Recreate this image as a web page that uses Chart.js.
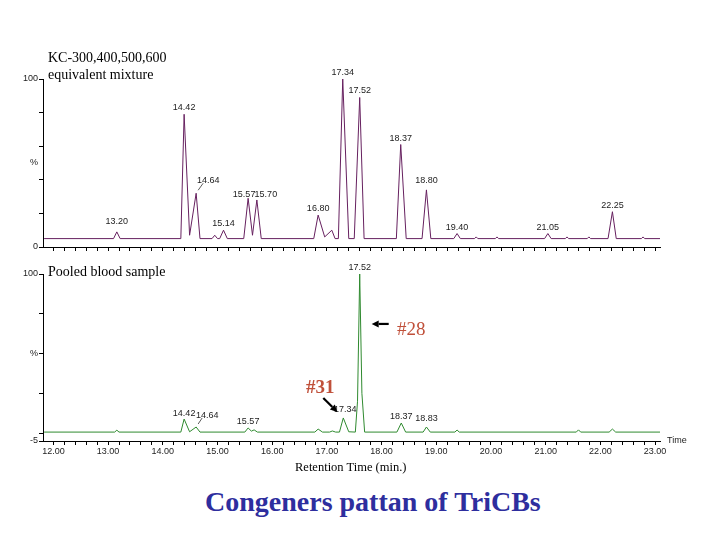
<!DOCTYPE html>
<html><head><meta charset="utf-8">
<script src="https://cdn.jsdelivr.net/npm/chart.js@4.4.1/dist/chart.umd.min.js"></script>
<style>
body{margin:0;background:#fff;width:720px;height:540px;position:relative;overflow:hidden;font-family:'Liberation Serif','Times New Roman',serif}
canvas{position:absolute;left:0}
.t{position:absolute;white-space:nowrap;color:#000}
</style></head><body>
<canvas id="topChart" width="720" height="262" style="top:0"></canvas>
<canvas id="botChart" width="720" height="225" style="top:255px"></canvas>
<div class="t" style="left:48px;top:49px;font-size:14px;line-height:17px">KC-300,400,500,600<br>equivalent mixture</div>
<div class="t" style="left:48px;top:263px;font-size:14px;line-height:17px">Pooled blood sample</div>
<div class="t" style="left:397px;top:318px;font-size:19px;line-height:22px;color:#c0503a">#28</div>
<div class="t" style="left:306px;top:376px;font-size:19px;line-height:22px;color:#c0503a;font-weight:bold">#31</div>
<div class="t" style="left:295px;top:459px;font-size:12.5px;line-height:16px">Retention Time (min.)</div>
<div class="t" style="left:667px;top:435px;font-size:9px;line-height:11px;font-family:'Liberation Sans',Arial,sans-serif;color:#222">Time</div>
<div class="t" style="left:205px;top:485px;font-size:28px;line-height:34px;font-weight:bold;color:#2e2e9e">Congeners pattan of TriCBs</div>
<script>
// ---- data ----
const timesTop = [11.83,13.10,13.16,13.22,14.33,14.39,14.49,14.61,14.68,14.90,14.95,15.00,15.04,15.11,15.18,
  15.48,15.56,15.64,15.72,15.80,16.76,16.84,16.96,17.09,17.15,17.21,17.29,17.40,17.50,17.60,17.68,
  18.27,18.35,18.45,18.74,18.82,18.90,19.32,19.38,19.44,19.70,19.73,19.76,20.08,20.11,20.14,
  20.98,21.04,21.10,21.36,21.39,21.42,21.76,21.79,21.82,22.14,22.22,22.29,22.75,22.78,22.81,23.09];
const signalTop = [5,5,9,5,5,79,7,32,5,5,7,5,5,10,5,
  5,29,7,28,5,5,19,6,10,5,5,100,5,5,89,5,
  5,61,5,5,34,5,5,8,5,5,6,5,5,6,5,
  5,8,5,5,6,5,5,6,5,5,21,5,5,6,5,5];
const timesBottom = [11.83,13.12,13.16,13.20,14.33,14.39,14.49,14.61,14.68,15.50,15.56,15.62,15.67,15.73,
  16.78,16.84,16.92,17.05,17.10,17.16,17.23,17.30,17.40,17.52,17.56,17.60,17.64,17.69,
  18.28,18.36,18.44,18.76,18.82,18.89,19.34,19.38,19.42,21.56,21.60,21.64,22.16,22.22,22.28,23.09];
const signalBottom = [0.6,0.6,1.8,0.6,0.6,8.8,0.8,3.8,0.6,0.6,3.2,1.2,2,0.6,
  0.6,2.5,0.6,0.6,1.3,0.6,0.6,9.5,0.8,0.6,20,100,25,0.6,
  0.6,6.3,0.6,0.6,3.8,0.6,0.6,1.9,0.6,0.6,2,0.6,0.6,2.5,0.6,0.6];
const peakLabelsTop = ['13.20','14.42','14.64','15.14','15.57','15.70','16.80','17.34','17.52','18.37','18.80','19.40','21.05','22.25'];
const peakTimesTop  = [13.16,14.39,14.61,15.11,15.56,15.72,16.84,17.29,17.60,18.35,18.82,19.38,21.04,22.22];
const peakLabelsBottom = ['14.42','14.64','15.57','17.34','17.52','18.37','18.83'];
const peakTimesBottom  = [14.39,14.61,15.56,17.30,17.60,18.36,18.82];
const xMin = 11.81, xMax = 23.09;

// ---- label styling (offsets in px relative to the peak apex) ----
const offTop = {'13.20':[0,-4],'14.64':[12,-6,'lead'],'15.57':[-4,3],'15.70':[9,1],'18.80':[0,-3]};
const offBot = {'14.42':[0,1],'14.64':[11,-5,'lead'],'17.34':[2,-2],'18.83':[0,-2]};

const SANS = "'Liberation Sans', Arial, sans-serif";

function arrow(ctx, x1, y1, x2, y2) {
  const a = Math.atan2(y2 - y1, x2 - x1), L = 7, W = 3.5;
  const bx = x2 - L * Math.cos(a), by = y2 - L * Math.sin(a);
  ctx.save();
  ctx.strokeStyle = '#000'; ctx.fillStyle = '#000'; ctx.lineWidth = 2.2;
  ctx.beginPath(); ctx.moveTo(x1, y1); ctx.lineTo(bx, by); ctx.stroke();
  ctx.beginPath(); ctx.moveTo(x2, y2);
  ctx.lineTo(bx + W * Math.sin(a), by - W * Math.cos(a));
  ctx.lineTo(bx - W * Math.sin(a), by + W * Math.cos(a));
  ctx.closePath(); ctx.fill();
  ctx.restore();
}

function peakLabelPlugin(texts, times, offs, isBottom) {
  return {
    id: 'peakLabels',
    afterDatasetsDraw(chart) {
      const ctx = chart.ctx;
      const meta = chart.getDatasetMeta(0);
      const xs = chart.data.datasets[0].data.map(p => p.x);
      const apex = (t) => {
        let best = 0;
        xs.forEach((v, i) => { if (Math.abs(v - t) < Math.abs(xs[best] - t)) best = i; });
        return meta.data[best];
      };
      ctx.save();
      ctx.font = '9px ' + SANS;
      ctx.fillStyle = '#222';
      ctx.textAlign = 'center';
      ctx.textBaseline = 'bottom';
      texts.forEach((txt, i) => {
        const p = apex(times[i]);
        const o = offs[txt] || [0, 0];
        const tx = p.x + o[0], ty = p.y - 2 + o[1];
        ctx.fillText(txt, tx, ty);
        if (o[2] === 'lead') {
          ctx.strokeStyle = '#333'; ctx.lineWidth = 0.8;
          ctx.beginPath(); ctx.moveTo(p.x + 2, p.y - 3); ctx.lineTo(tx - 5, ty - 2); ctx.stroke();
        }
      });
      ctx.restore();
      if (isBottom) {
        const big = apex(17.60), small = apex(17.30);
        const yA = chart.scales.y.getPixelForValue(68.6);
        arrow(ctx, big.x + 29, yA, big.x + 12, yA);
        arrow(ctx, small.x - 20, small.y - 20, small.x - 6, small.y - 6);
      }
    }
  };
}

function makeChart(id, times, signal, color, cfg) {
  const data = times.map((t, i) => ({x: t, y: signal[i]}));
  return new Chart(document.getElementById(id), {
    type: 'line',
    data: {datasets: [{data, borderColor: color, borderWidth: 1, pointRadius: 0, tension: 0, fill: false}]},
    options: {
      responsive: false, animation: false, devicePixelRatio: 1,
      layout: {padding: {top: cfg.padTop, right: 60, left: 0, bottom: 0}},
      plugins: {legend: {display: false}, tooltip: {enabled: false}},
      scales: {
        x: {
          type: 'linear', min: xMin, max: xMax,
          ticks: {
            stepSize: 0.2, includeBounds: false, autoSkip: false, maxRotation: 0, minRotation: 0,
            font: {size: 9, family: SANS}, color: '#222', padding: 1,
            callback: (v) => (cfg.xLabels && Math.abs(v - Math.round(v)) < 1e-6) ? v.toFixed(2) : ''
          },
          grid: {drawOnChartArea: false, tickLength: 4, tickColor: '#000', tickWidth: 1},
          border: {display: true, color: '#000', width: 1},
          afterFit: (s) => { s.height = cfg.xHeight; s.paddingLeft = 0; s.paddingRight = 0; }
        },
        y: {
          min: cfg.yMin, max: cfg.yMax,
          ticks: {
            stepSize: cfg.yStep, autoSkip: false, font: {size: 9, family: SANS}, color: '#222', padding: 1,
            callback: (v) => cfg.yLabels[v] !== undefined ? cfg.yLabels[v] : ''
          },
          grid: {drawOnChartArea: false, tickLength: 4, tickWidth: 1,
            tickColor: (c) => cfg.yTicks.includes(c.tick.value) ? '#000' : 'rgba(0,0,0,0)'},
          border: {display: true, color: '#000', width: 1},
          afterFit: (s) => { s.width = 43; s.paddingTop = 0; s.paddingBottom = 0; }
        }
      }
    },
    plugins: [peakLabelPlugin(cfg.texts, cfg.times, cfg.offs, cfg.bottom)]
  });
}

makeChart('topChart', timesTop, signalTop, '#66205f', {
  padTop: 79, xHeight: 15, xLabels: false, yMin: 0, yMax: 100, yStep: 10,
  yLabels: {100: '100', 50: '%', 0: '0'}, yTicks: [0, 20, 40, 60, 80, 100],
  texts: peakLabelsTop, times: peakTimesTop, offs: offTop, bottom: false
});
makeChart('botChart', timesBottom, signalBottom, '#2f8a2f', {
  padTop: 19, xHeight: 39, xLabels: true, yMin: -5, yMax: 100, yStep: 5,
  yLabels: {100: '100', 50: '%', '-5': '-5'}, yTicks: [-5, 0, 25, 50, 75, 100],
  texts: peakLabelsBottom, times: peakTimesBottom, offs: offBot, bottom: true
});
</script>
</body></html>
